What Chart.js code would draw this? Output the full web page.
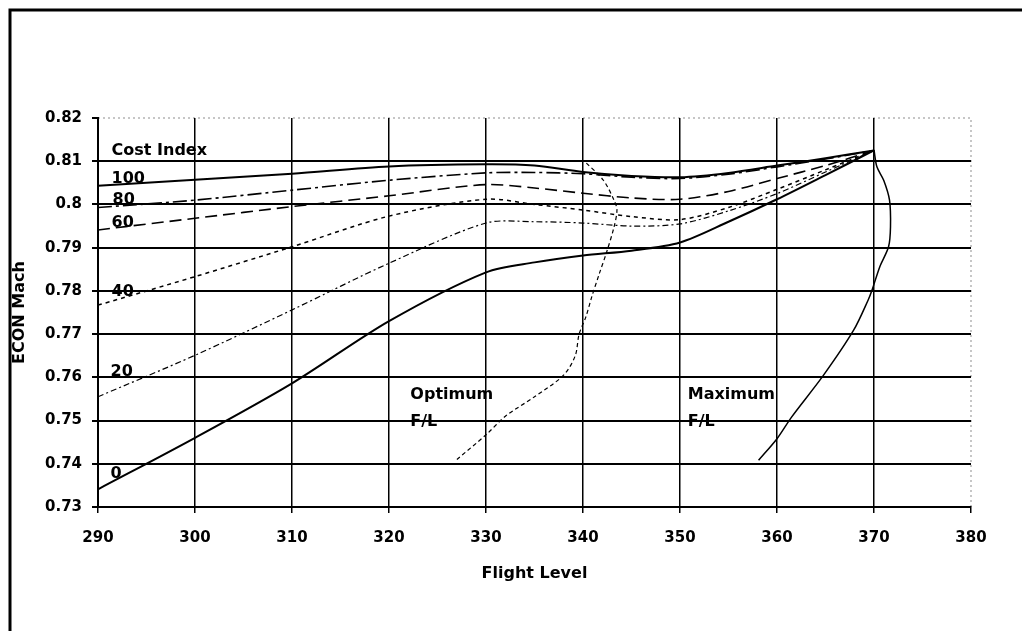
<!DOCTYPE html>
<html>
<head>
<meta charset="utf-8">
<title>ECON Mach vs Flight Level</title>
<script src="https://cdn.jsdelivr.net/npm/chart.js@4.4.1/dist/chart.umd.min.js"></script>
<style>
  html, body { margin: 0; padding: 0; background: #fff; }
  #chart { display: block; }
</style>
</head>
<body>
<canvas id="chart" width="1022" height="631"></canvas>
<script>
// Flight levels where the cost index curves were read
var flightLevels = [290, 300, 310, 320, 330, 335, 340, 345, 350, 355, 360, 365, 370];

// ECON Mach for each cost index
var ci100 = [0.8043, 0.8057, 0.8071, 0.8088, 0.8093, 0.8090, 0.8075, 0.8066, 0.8063, 0.8073, 0.8090, 0.8107, 0.8125];
var ci80  = [0.7993, 0.8010, 0.8033, 0.8056, 0.8073, 0.8074, 0.8071, 0.8063, 0.8060, 0.8070, 0.8087, 0.8105, 0.8125];
var ci60  = [0.7941, 0.7968, 0.7995, 0.8020, 0.8046, 0.8038, 0.8026, 0.8015, 0.8012, 0.8030, 0.8060, 0.8090, 0.8125];
var ci40  = [0.7767, 0.7833, 0.7902, 0.7973, 0.8012, 0.8000, 0.7987, 0.7972, 0.7965, 0.7993, 0.8035, 0.8080, 0.8125];
var ci20  = [0.7555, 0.7651, 0.7756, 0.7864, 0.7957, 0.7960, 0.7957, 0.7950, 0.7955, 0.7985, 0.8025, 0.8075, 0.8125];
var ci0   = [0.7341, 0.7460, 0.7586, 0.7730, 0.7843, 0.7866, 0.7882, 0.7893, 0.7912, 0.7960, 0.8012, 0.8068, 0.8125];

// Optimum F/L boundary
var optFL   = [327.0, 330.0, 332.0, 335.0, 338.0, 339.2, 339.6, 340.3, 340.9, 341.7, 342.4, 343.2, 343.5, 343.2, 342.1, 340.2];
var optMach = [0.7410, 0.7467, 0.7510, 0.7555, 0.7605, 0.7650, 0.7700, 0.7740, 0.7786, 0.7841, 0.7887, 0.7948, 0.7987, 0.8010, 0.8056, 0.8099];

// Maximum F/L boundary
var maxFL   = [358.1, 360.0, 361.5, 364.8, 367.9, 369.4, 369.8, 370.6, 371.5, 371.7, 371.6, 371.0, 370.3, 370.0];
var maxMach = [0.7408, 0.7458, 0.7508, 0.7605, 0.7709, 0.7779, 0.7802, 0.7856, 0.7902, 0.7948, 0.8010, 0.8056, 0.8087, 0.8126];

// Axis ticks
var xTicks = [290, 300, 310, 320, 330, 340, 350, 360, 370, 380];
var yTicks = [0.73, 0.74, 0.75, 0.76, 0.77, 0.78, 0.79, 0.80, 0.81, 0.82];
var yTickLabels = ['0.73', '0.74', '0.75', '0.76', '0.77', '0.78', '0.79', '0.8', '0.81', '0.82'];

// In-plot labels (anchored in data units)
var labelTexts = ['Cost Index', '100', '80', '60', '40', '20', '0', 'Optimum', 'F/L', 'Maximum', 'F/L'];
var labelFL    = [291.4, 291.4, 291.5, 291.4, 291.4, 291.3, 291.3, 322.2, 322.2, 350.8, 350.8];
var labelMach  = [0.8125, 0.8059, 0.8010, 0.7957, 0.7797, 0.7612, 0.7376, 0.7559, 0.7497, 0.7559, 0.7497];

function toPoints(xs, ys) {
    return xs.map(function(x, i) { return { x: x, y: ys[i] }; });
}

function curve(label, xs, ys, width, dash) {
    return {
        label: label,
        data: toPoints(xs, ys),
        borderColor: '#000',
        borderWidth: width,
        borderDash: dash,
        pointRadius: 0,
        fill: false,
        tension: 0.3
    };
}

var fontFamily = "'DejaVu Sans', 'Liberation Sans', Arial, sans-serif";

// Frame, dotted outer edges and the curve labels
var decorPlugin = {
    id: 'decor',
    beforeDraw: function(chart) {
        var ctx = chart.ctx;
        ctx.save();
        ctx.fillStyle = '#fff';
        ctx.fillRect(0, 0, chart.width, chart.height);
        ctx.restore();
    },
    afterDraw: function(chart) {
        var ctx = chart.ctx;
        var xs = chart.scales.x;
        var ys = chart.scales.y;
        var area = chart.chartArea;
        ctx.save();

        // page frame
        ctx.strokeStyle = '#000';
        ctx.lineWidth = 3;
        ctx.beginPath();
        ctx.moveTo(10, chart.height);
        ctx.lineTo(10, 10);
        ctx.lineTo(chart.width, 10);
        ctx.stroke();

        // faint dotted top and right edges of the plot
        ctx.strokeStyle = 'rgba(0,0,0,0.45)';
        ctx.lineWidth = 1;
        ctx.setLineDash([2, 3]);
        ctx.beginPath();
        ctx.moveTo(area.left, ys.getPixelForValue(0.82));
        ctx.lineTo(xs.getPixelForValue(380), ys.getPixelForValue(0.82));
        ctx.lineTo(xs.getPixelForValue(380), area.bottom);
        ctx.stroke();
        ctx.setLineDash([]);

        ctx.fillStyle = '#000';
        ctx.font = 'bold 16px ' + fontFamily;
        ctx.textAlign = 'left';
        ctx.textBaseline = 'middle';
        labelTexts.forEach(function(t, i) {
            ctx.fillText(t, xs.getPixelForValue(labelFL[i]), ys.getPixelForValue(labelMach[i]));
        });
        ctx.restore();
    }
};

new Chart(document.getElementById('chart'), {
    type: 'line',
    data: {
        datasets: [
            curve('100', flightLevels, ci100, 2, []),
            curve('80', flightLevels, ci80, 1.6, [14, 4, 3, 4]),
            curve('60', flightLevels, ci60, 1.6, [12, 6]),
            curve('40', flightLevels, ci40, 1.5, [4, 4]),
            curve('20', flightLevels, ci20, 1.2, [6, 3, 2, 3]),
            curve('0', flightLevels, ci0, 2, []),
            curve('Optimum F/L', optFL, optMach, 1.2, [4, 3]),
            curve('Maximum F/L', maxFL, maxMach, 1.5, [])
        ]
    },
    options: {
        responsive: false,
        animation: false,
        layout: {
            padding: { top: 118, right: 51, left: 0, bottom: 0 }
        },
        plugins: {
            legend: { display: false },
            tooltip: { enabled: false }
        },
        scales: {
            x: {
                type: 'linear',
                min: 290,
                max: 380,
                afterBuildTicks: function(scale) {
                    scale.ticks = xTicks.map(function(v) { return { value: v }; });
                },
                afterFit: function(scale) { scale.height = 124; },
                ticks: {
                    color: '#000',
                    padding: 16,
                    maxRotation: 0,
                    font: { family: fontFamily, size: 15, weight: 'bold' },
                    callback: function(v) { return String(v); }
                },
                grid: {
                    color: function(c) { return c.tick && c.tick.value === 380 ? 'rgba(0,0,0,0)' : '#000'; },
                    tickColor: '#000',
                    lineWidth: 1.5,
                    tickLength: 6
                },
                border: { display: true, color: '#000', width: 2 },
                title: {
                    display: true,
                    text: 'Flight Level',
                    color: '#000',
                    font: { family: fontFamily, size: 16, weight: 'bold' },
                    padding: { top: 0, bottom: 48 }
                }
            },
            y: {
                type: 'linear',
                min: 0.73,
                max: 0.82,
                afterBuildTicks: function(scale) {
                    scale.ticks = yTicks.map(function(v) { return { value: v }; });
                },
                afterFit: function(scale) { scale.width = 98; },
                ticks: {
                    color: '#000',
                    padding: 10,
                    font: { family: fontFamily, size: 15, weight: 'bold' },
                    callback: function(v, i) { return yTickLabels[i]; }
                },
                grid: {
                    color: function(c) { return c.tick && c.tick.value === 0.82 ? 'rgba(0,0,0,0)' : '#000'; },
                    tickColor: '#000',
                    lineWidth: 2,
                    tickLength: 6
                },
                border: { display: true, color: '#000', width: 2 },
                title: {
                    display: true,
                    text: 'ECON Mach',
                    color: '#000',
                    font: { family: fontFamily, size: 16, weight: 'bold' },
                    padding: { top: 10, bottom: 0 }
                }
            }
        }
    },
    plugins: [decorPlugin]
});
</script>
</body>
</html>
